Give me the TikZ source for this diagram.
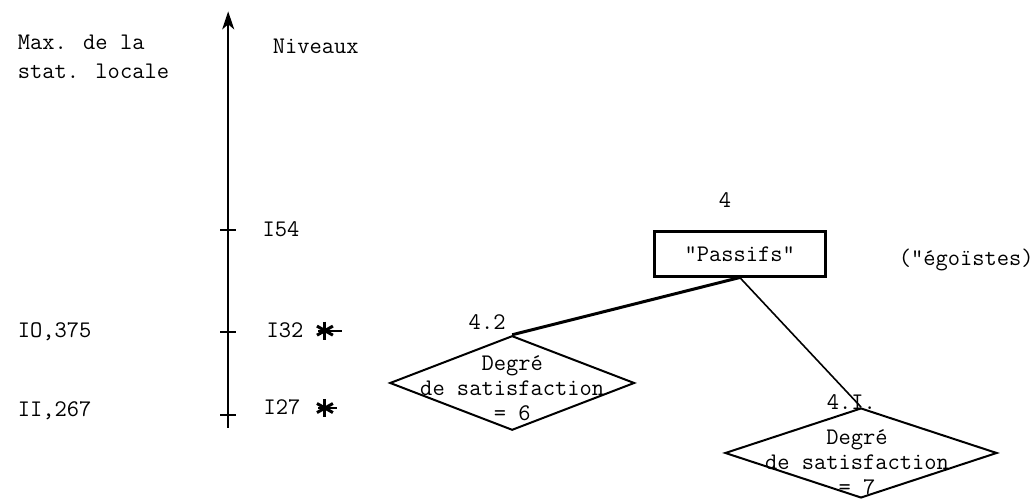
\documentclass[tikz,border=0pt]{standalone}
\usetikzlibrary{shapes.geometric,arrows.meta}

\tikzset{
  txt/.style={inner sep=0pt,font=\ttfamily\fontsize{11.9}{12.5}\selectfont},
  satis/.style={diamond,draw,line width=1pt,inner sep=0pt},
}

\begin{document}
\begin{tikzpicture}[line width=0.8pt,>={Stealth[length=9pt,width=6pt,inset=2.5pt]}]
\useasboundingbox (0,0) rectangle (18.17,8.82);
% vertical axis of the levels
\coordinate (axbot) at (4.01,1.30);
\coordinate (axtop) at (4.01,8.62);
\draw[->] (axbot) -- (axtop);
\draw[line width=1pt] (3.87,4.78) -- (4.15,4.78);
\draw[line width=1pt] (3.87,2.99) -- (4.15,2.99);
\draw[line width=1pt] (3.87,1.53) -- (4.15,1.53);
\node[txt,anchor=west] (maxa) at (0.30,8.08) {Max. de la};
\node[txt,anchor=west] (maxb) at (0.30,7.56) {stat. locale};
\node[txt,anchor=west] (niv) at (4.78,8.00) {Niveaux};
\node[txt,anchor=west] (lvl54) at (4.60,4.80) {I54};
\node[txt,anchor=west] (lvl32) at (4.67,3.01) {I32};
\node[txt,anchor=west] (lvl27) at (4.62,1.67) {I27};
\node[txt,anchor=west] (max32) at (0.30,3.00) {IO,375};
\node[txt,anchor=west] (max27) at (0.30,1.61) {II,267};

% stars next to the levels
\foreach \sx/\sy/\dl in {5.71/3.01/0.30, 5.71/1.65/0.22} {
  \draw[line width=1.5pt] (\sx,\sy+0.16) -- (\sx,\sy-0.16);
  \draw[line width=1.5pt] (\sx-0.14,\sy+0.08) -- (\sx+0.14,\sy-0.08);
  \draw[line width=1.5pt] (\sx-0.14,\sy-0.08) -- (\sx+0.14,\sy+0.08);
  \draw[line width=1pt] (\sx-0.12,\sy) -- (\sx+\dl,\sy);
}

% class 4 and its two sub-classes
\node[txt] (n4) at (12.74,5.31) {4};
\node[txt,draw,line width=1.5pt,minimum width=3.0cm,minimum height=0.78cm]
  (pass) at (13.0,4.36) {"Passifs"};
\node[txt,anchor=west] (ego) at (15.78,4.25) {("égoïstes)};

\node[satis,minimum width=4.3cm,minimum height=1.66cm] (d42) at (9.0,2.09) {};
\node[txt,align=center] (t42) at (9.0,2.0) {Degré\\de satisfaction\\= 6};
\node[txt] (n42) at (8.56,3.16) {4.2};

\node[satis,minimum width=4.78cm,minimum height=1.58cm] (d41) at (15.13,0.86) {};
\node[txt,align=center] (t41) at (15.06,0.70) {Degré\\de satisfaction\\= 7};
\node[txt] (n41) at (14.96,1.76) {4.I.};

\draw[line width=1.5pt] (pass.south) -- (d42.north);
\draw (pass.south) -- (d41.north);
\end{tikzpicture}
\end{document}
